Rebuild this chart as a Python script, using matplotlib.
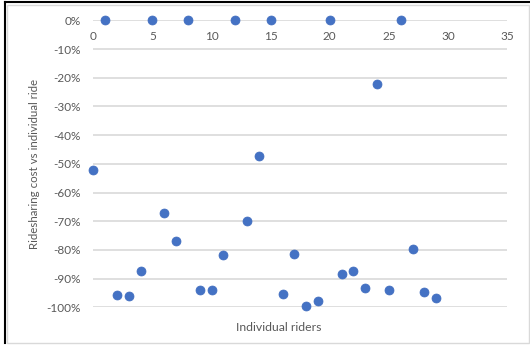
import matplotlib.pyplot as plt
from matplotlib.lines import Line2D
from matplotlib.patches import Rectangle
from matplotlib.ticker import FuncFormatter, MultipleLocator

plt.rcParams['font.family'] = ['Lato', 'DejaVu Sans']

# Rider index and cost difference (%) of ridesharing vs riding alone
riders = list(range(30))
cost_diff = [-52, 0, -95.7, -96, -87.2, 0, -67.2, -76.9, 0, -94,
             -94, -81.9, 0, -69.8, -47.3, 0, -95.5, -81.4, -99.4, -97.6,
             0, -88.5, -87.3, -93.3, -22.2, -94, 0, -79.8, -94.8, -96.8]

fig = plt.figure(figsize=(5.3, 3.45), dpi=100)
ax = fig.add_axes([0.176, 0.109, 0.781, 0.832])

ax.scatter(riders, cost_diff, s=42, color='#4472C4', edgecolors='#3F6CBF',
           linewidths=0.5, zorder=3, clip_on=False)

ax.set_xlim(0, 35)
ax.set_ylim(-100, 0)
ax.xaxis.set_major_locator(MultipleLocator(5))
ax.yaxis.set_major_locator(MultipleLocator(10))
ax.yaxis.set_major_formatter(FuncFormatter(lambda v, p: f'{v:.0f}%'))
ax.grid(axis='y', color='#D9D9D9', linewidth=1.2)
ax.set_axisbelow(True)

# x axis crosses at 0%, labels sit just under the top gridline
ax.spines['bottom'].set_position(('data', 0))
for side in ['top', 'right', 'left', 'bottom']:
    ax.spines[side].set_visible(False)
ax.tick_params(axis='both', length=0, labelsize=8.5, labelcolor='#595959')
ax.tick_params(axis='x', pad=7.5)
ax.tick_params(axis='y', pad=9)

ax.set_xlabel('Individual riders', fontsize=8.8, color='#595959')
ax.xaxis.set_label_coords(0.447, -0.05)
ax.set_ylabel('Ridesharing cost vs individual ride', fontsize=8.3, color='#595959')
ax.yaxis.set_label_coords(-0.128, 0.5)

# chart frame
fig.patches.append(Rectangle((7 / 530, 2 / 345), 522 / 530, 338 / 345,
                             transform=fig.transFigure, fill=False,
                             edgecolor='#D9D9D9', linewidth=1))
fig.lines.append(Line2D([4.5 / 530, 1], [1 - 1.5 / 345] * 2,
                        transform=fig.transFigure, color='black', linewidth=1.5))
fig.lines.append(Line2D([4.5 / 530] * 2, [2 / 345, 1 - 1.5 / 345],
                        transform=fig.transFigure, color='black', linewidth=1.5))

fig.savefig('out.png', dpi=100)
